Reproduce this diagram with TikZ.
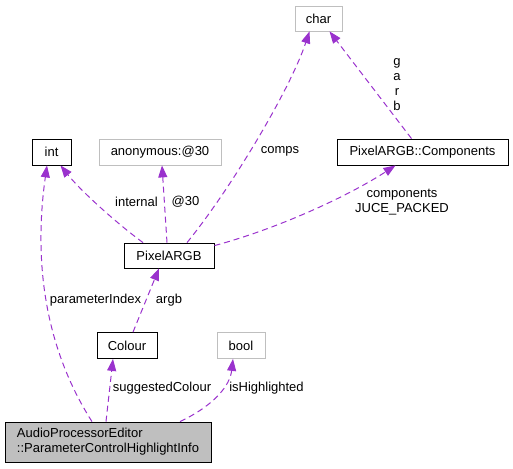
\documentclass[tikz,border=0pt]{standalone}
\usepackage{fontspec}
\setmainfont{Liberation Sans}
\usetikzlibrary{arrows.meta}
\definecolor{edgepurple}{HTML}{9A32CD}
\definecolor{greyline}{HTML}{BFBFBF}

\begin{document}
\begin{tikzpicture}[x=1pt, y=-1pt,
    box/.style={draw=black, line width=0.8pt, minimum height=26pt, inner sep=2pt,
                font=\fontsize{13}{15}\selectfont},
    extbox/.style={box, draw=greyline},
    mainbox/.style={box, fill=greyline, minimum height=40pt, align=left},
    dep/.style={draw=edgepurple, line width=1pt, dash pattern=on 6pt off 4pt,
                -{Triangle[length=12pt,width=9pt,fill=edgepurple]}},
    lbl/.style={font=\fontsize{13}{15}\selectfont, inner sep=0pt, align=center}]
    \useasboundingbox (0,0) rectangle (513,468);

    % Classes
    \node [mainbox, minimum width=206pt] (main) at (108,442) {AudioProcessorEditor\\::ParameterControlHighlightInfo};
    \node [box, minimum width=60pt] (colour) at (127,345.5) {Colour};
    \node [extbox, minimum width=48pt] (bool) at (241,345.5) {bool};
    \node [box, minimum width=90pt, minimum height=25pt] (pixel) at (169,255.5) {PixelARGB};
    \node [box, minimum width=39pt] (int) at (51.5,152) {int};
    \node [extbox, minimum width=122pt] (anon) at (160,152) {anonymous:@30};
    \node [box, minimum width=171pt] (comp) at (422.5,152) {PixelARGB::Components};
    \node [extbox, minimum width=47pt, minimum height=25pt] (chr) at (318.5,18.5) {char};

    % Members of the highlight info
    \draw [dep] ([xshift=-16pt]main.north) .. controls (40,340) and (35,250) .. ([xshift=-4.5pt]int.south);
    \node [lbl] (lparam) at (95.5,300) {parameterIndex};
    \draw [dep] ([xshift=-2pt]main.north) -- ([xshift=-14pt]colour.south);
    \node [lbl] (lsugg) at (162,388) {suggestedColour};
    \draw [dep] ([xshift=72pt]main.north) .. controls (215,405) and (230,385) .. ([xshift=-8pt]bool.south);
    \node [lbl] (lhigh) at (266.5,388) {isHighlighted};

    % Colour and PixelARGB
    \draw [dep] ([xshift=6pt]colour.north) -- ([xshift=-10pt]pixel.south);
    \node [lbl] (largb) at (169,300) {argb};
    \draw [dep] ([xshift=-26pt]pixel.north) .. controls (115,222) and (80,190) .. ([xshift=9pt]int.south);
    \node [lbl] (lint) at (136.5,202) {internal};
    \draw [dep] ([xshift=-2pt]pixel.north) -- ([xshift=2pt]anon.south);
    \node [lbl] (lanon) at (185.5,202) {@30};
    \draw [dep] ([xshift=18pt]pixel.north) .. controls (230,190) and (290,90) .. ([xshift=-9pt]chr.south);
    \node [lbl] (lcomps) at (280,151) {comps};
    \draw [dep] ([yshift=-3pt]pixel.north east) .. controls (280,228) and (350,195) .. ([xshift=-27pt]comp.south);
    \node [lbl] (lcomp) at (402,202.5) {components\\JUCE\_PACKED};

    % Components
    \draw [dep] ([xshift=-11pt]comp.north) -- ([xshift=11pt]chr.south);
    \node [lbl, align=center] (lgarb) at (397,85) {g\\a\\r\\b};
\end{tikzpicture}
\end{document}
